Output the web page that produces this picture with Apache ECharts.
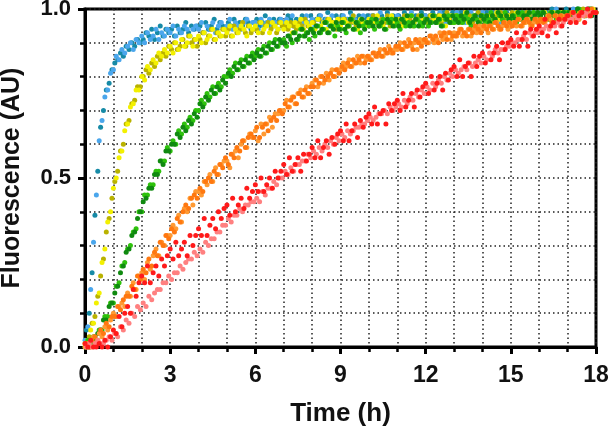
<!DOCTYPE html>
<html>
<head>
<meta charset="utf-8">
<script src="https://cdn.jsdelivr.net/npm/echarts@6/dist/echarts.min.js"></script>
<style>html,body{margin:0;padding:0;background:#fff}#c{width:611px;height:429px}</style>
</head>
<body>
<div id="c"></div>
<script>
// Sampling times (h): replicate A and replicate B
const tA = [0,0.1,0.2,0.3,0.4,0.5,0.6,0.7,0.8,0.9,
1,1.1,1.2,1.3,1.4,1.5,1.6,1.7,1.8,1.9,
2,2.1,2.2,2.3,2.4,2.5,2.6,2.7,2.8,2.9,
3,3.1,3.2,3.3,3.4,3.5,3.6,3.7,3.8,3.9,
4,4.1,4.2,4.3,4.4,4.5,4.6,4.7,4.8,4.9,
5,5.1,5.2,5.3,5.4,5.5,5.6,5.7,5.8,5.9,
6,6.1,6.2,6.3,6.4,6.5,6.6,6.7,6.8,6.9,
7,7.1,7.2,7.3,7.4,7.5,7.6,7.7,7.8,7.9,
8,8.1,8.2,8.3,8.4,8.5,8.6,8.7,8.8,8.9,
9,9.1,9.2,9.3,9.4,9.5,9.6,9.7,9.8,9.9,
10,10.1,10.2,10.3,10.4,10.5,10.6,10.7,10.8,10.9,
11,11.1,11.2,11.3,11.4,11.5,11.6,11.7,11.8,11.9,
12,12.1,12.2,12.3,12.4,12.5,12.6,12.7,12.8,12.9,
13,13.1,13.2,13.3,13.4,13.5,13.6,13.7,13.8,13.9,
14,14.1,14.2,14.3,14.4,14.5,14.6,14.7,14.8,14.9,
15,15.1,15.2,15.3,15.4,15.5,15.6,15.7,15.8,15.9,
16,16.1,16.2,16.3,16.4,16.5,16.6,16.7,16.8,16.9,
17,17.1,17.2,17.3,17.4,17.5,17.6,17.7,17.8,17.9,
18];
const tB = [0.05,0.15,0.25,0.35,0.45,0.55,0.65,0.75,0.85,0.95,
1.05,1.15,1.25,1.35,1.45,1.55,1.65,1.75,1.85,1.95,
2.05,2.15,2.25,2.35,2.45,2.55,2.65,2.75,2.85,2.95,
3.05,3.15,3.25,3.35,3.45,3.55,3.65,3.75,3.85,3.95,
4.05,4.15,4.25,4.35,4.45,4.55,4.65,4.75,4.85,4.95,
5.05,5.15,5.25,5.35,5.45,5.55,5.65,5.75,5.85,5.95,
6.05,6.15,6.25,6.35,6.45,6.55,6.65,6.75,6.85,6.95,
7.05,7.15,7.25,7.35,7.45,7.55,7.65,7.75,7.85,7.95,
8.05,8.15,8.25,8.35,8.45,8.55,8.65,8.75,8.85,8.95,
9.05,9.15,9.25,9.35,9.45,9.55,9.65,9.75,9.85,9.95,
10.05,10.15,10.25,10.35,10.45,10.55,10.65,10.75,10.85,10.95,
11.05,11.15,11.25,11.35,11.45,11.55,11.65,11.75,11.85,11.95,
12.05,12.15,12.25,12.35,12.45,12.55,12.65,12.75,12.85,12.95,
13.05,13.15,13.25,13.35,13.45,13.55,13.65,13.75,13.85,13.95,
14.05,14.15,14.25,14.35,14.45,14.55,14.65,14.75,14.85,14.95,
15.05,15.15,15.25,15.35,15.45,15.55,15.65,15.75,15.85,15.95,
16.05,16.15,16.25,16.35,16.45,16.55,16.65,16.75,16.85,16.95,
17.05,17.15,17.25,17.35,17.45,17.55,17.65,17.75,17.85,17.95];

// Fluorescence (AU)
const blueA = [0.02,0.06,0.17,0.31,0.45,0.61,0.67,0.74,0.76,0.81,
0.82,0.86,0.85,0.88,0.87,0.89,0.90,0.88,0.91,0.90,
0.92,0.90,0.93,0.91,0.92,0.94,0.91,0.93,0.92,0.94,
0.93,0.95,0.92,0.94,0.93,0.95,0.94,0.92,0.94,0.95,
0.94,0.96,0.93,0.95,0.94,0.96,0.93,0.95,0.96,0.94,
0.95,0.97,0.94,0.96,0.95,0.94,0.96,0.97,0.95,0.96,
0.96,0.94,0.97,0.95,0.96,0.97,0.95,0.96,0.94,0.97,
0.96,0.97,0.95,0.98,0.96,0.95,0.97,0.96,0.98,0.96,
0.97,0.95,0.97,0.98,0.96,0.97,0.95,0.98,0.96,0.97,
0.96,0.98,0.97,0.96,0.98,0.97,0.95,0.97,0.98,0.96,
0.97,0.98,0.96,0.97,0.99,0.97,0.96,0.98,0.97,0.96,
0.98,0.96,0.97,0.98,0.97,0.99,0.96,0.97,0.98,0.97,
0.98,0.97,0.96,0.98,0.97,0.99,0.98,0.96,0.98,0.97,
0.97,0.99,0.98,0.97,0.96,0.98,0.99,0.97,0.98,0.98,
0.99,0.97,0.98,0.99,0.97,0.98,0.96,0.99,0.98,0.97,
0.98,0.99,0.97,0.98,0.99,0.98,0.97,0.99,0.98,0.99,
0.99,0.97,0.99,0.98,0.99,0.98,1.00,0.98,0.99,0.97,
0.99,0.98,1.00,0.99,0.98,0.99,0.98,1.00,0.99,0.99,
0.99];
const blueB = [0.05,0.10,0.22,0.39,0.52,0.65,0.70,0.76,0.78,0.82,
0.84,0.85,0.87,0.86,0.89,0.88,0.90,0.89,0.91,0.90,
0.91,0.93,0.92,0.94,0.91,0.93,0.95,0.92,0.94,0.93,
0.94,0.92,0.95,0.93,0.94,0.96,0.93,0.95,0.94,0.95,
0.95,0.93,0.96,0.94,0.95,0.97,0.94,0.96,0.95,0.94,
0.96,0.95,0.97,0.94,0.96,0.95,0.97,0.96,0.94,0.96,
0.97,0.95,0.96,0.98,0.96,0.95,0.97,0.96,0.97,0.95,
0.96,0.98,0.97,0.95,0.97,0.96,0.98,0.97,0.96,0.98,
0.96,0.97,0.98,0.96,0.97,0.99,0.97,0.96,0.98,0.97,
0.98,0.96,0.97,0.99,0.96,0.97,0.98,0.96,0.97,0.98,
0.97,0.98,0.97,0.96,0.98,0.97,0.99,0.97,0.98,0.96,
0.98,0.97,0.99,0.97,0.98,0.96,0.98,0.97,0.99,0.98,
0.97,0.98,0.99,0.97,0.98,0.97,0.99,0.98,0.97,0.99,
0.98,0.97,0.99,0.98,0.97,0.99,0.98,0.98,0.99,0.97,
0.98,0.99,0.97,0.99,0.98,0.98,0.99,0.97,0.99,0.98,
0.99,0.98,0.98,0.99,0.97,0.99,0.98,0.99,0.98,0.99,
0.98,0.99,0.99,0.98,1.00,0.99,0.98,0.99,0.99,1.00,
0.99,0.98,0.99,1.00,0.99,0.99,0.98,0.99,1.00,0.99];
const yellowA = [0.01,0.02,0.05,0.07,0.13,0.16,0.25,0.29,0.37,0.40,
0.47,0.50,0.56,0.58,0.64,0.66,0.71,0.72,0.76,0.76,
0.80,0.79,0.83,0.82,0.85,0.84,0.87,0.86,0.88,0.87,
0.89,0.87,0.90,0.88,0.91,0.89,0.90,0.92,0.89,0.91,
0.92,0.90,0.93,0.91,0.92,0.94,0.91,0.93,0.92,0.94,
0.93,0.95,0.92,0.94,0.93,0.95,0.94,0.92,0.95,0.94,
0.95,0.93,0.96,0.94,0.95,0.93,0.96,0.95,0.94,0.96,
0.94,0.96,0.95,0.93,0.96,0.95,0.97,0.94,0.96,0.95,
0.96,0.94,0.97,0.95,0.96,0.94,0.97,0.96,0.95,0.97,
0.95,0.97,0.96,0.95,0.97,0.96,0.94,0.97,0.96,0.95,
0.97,0.95,0.96,0.98,0.96,0.95,0.97,0.96,0.98,0.96,
0.96,0.97,0.95,0.97,0.96,0.98,0.96,0.97,0.95,0.97,
0.97,0.96,0.98,0.97,0.96,0.98,0.97,0.95,0.97,0.98,
0.96,0.98,0.97,0.97,0.99,0.96,0.97,0.98,0.97,0.96,
0.98,0.97,0.96,0.98,0.97,0.99,0.97,0.98,0.96,0.98,
0.97,0.98,0.99,0.97,0.98,0.96,0.98,0.97,0.99,0.98,
0.98,0.97,0.99,0.98,0.97,0.99,0.98,0.98,0.99,0.97,
0.99,0.98,0.98,0.99,0.97,0.99,0.98,0.99,0.98,1.00,
0.99];
const yellowB = [0.00,0.03,0.07,0.09,0.15,0.21,0.26,0.34,0.38,0.44,
0.49,0.52,0.58,0.60,0.66,0.67,0.72,0.73,0.77,0.77,
0.80,0.82,0.81,0.84,0.83,0.86,0.85,0.87,0.86,0.89,
0.88,0.90,0.88,0.89,0.91,0.89,0.92,0.90,0.91,0.89,
0.91,0.93,0.90,0.92,0.94,0.91,0.93,0.92,0.94,0.92,
0.94,0.92,0.95,0.93,0.94,0.96,0.93,0.95,0.93,0.94,
0.94,0.96,0.93,0.95,0.96,0.94,0.95,0.93,0.96,0.95,
0.95,0.94,0.96,0.95,0.94,0.96,0.95,0.97,0.95,0.94,
0.96,0.95,0.97,0.94,0.96,0.97,0.95,0.96,0.94,0.97,
0.96,0.97,0.95,0.96,0.98,0.95,0.96,0.97,0.95,0.96,
0.96,0.98,0.96,0.95,0.97,0.96,0.98,0.95,0.97,0.96,
0.97,0.96,0.98,0.96,0.97,0.95,0.97,0.98,0.96,0.97,
0.96,0.98,0.97,0.97,0.98,0.96,0.97,0.99,0.97,0.96,
0.98,0.97,0.96,0.98,0.97,0.98,0.96,0.97,0.99,0.97,
0.97,0.98,0.98,0.96,0.98,0.97,0.99,0.97,0.98,0.98,
0.99,0.97,0.98,0.98,0.97,0.99,0.98,0.97,0.98,0.99,
0.98,0.99,0.97,0.98,0.99,0.98,0.99,0.97,0.99,0.98,
0.99,0.98,0.99,0.99,0.98,1.00,0.99,0.98,0.99,0.99];
const greenA = [0.00,0.02,0.01,0.03,0.02,0.05,0.05,0.09,0.09,0.13,
0.13,0.18,0.19,0.24,0.25,0.29,0.30,0.34,0.35,0.40,
0.40,0.45,0.45,0.48,0.48,0.52,0.52,0.55,0.55,0.59,
0.58,0.61,0.60,0.64,0.63,0.66,0.65,0.68,0.67,0.70,
0.70,0.73,0.72,0.75,0.74,0.77,0.75,0.78,0.77,0.80,
0.80,0.82,0.81,0.84,0.82,0.85,0.83,0.86,0.84,0.87,
0.86,0.88,0.86,0.89,0.87,0.90,0.88,0.91,0.89,0.90,
0.91,0.89,0.92,0.90,0.93,0.91,0.94,0.92,0.93,0.91,
0.94,0.92,0.95,0.93,0.94,0.96,0.93,0.95,0.92,0.95,
0.94,0.96,0.93,0.95,0.97,0.94,0.96,0.93,0.95,0.96,
0.95,0.97,0.94,0.96,0.95,0.97,0.94,0.96,0.97,0.95,
0.96,0.94,0.97,0.95,0.96,0.98,0.95,0.97,0.96,0.95,
0.97,0.95,0.96,0.98,0.96,0.97,0.95,0.97,0.98,0.96,
0.96,0.98,0.97,0.96,0.98,0.97,0.95,0.98,0.97,0.96,
0.98,0.96,0.97,0.99,0.97,0.96,0.98,0.97,0.99,0.97,
0.97,0.98,0.96,0.98,0.99,0.97,0.98,0.97,0.99,0.98,
0.98,0.99,0.97,0.98,0.99,0.98,0.97,0.99,0.98,0.99,
0.99,0.98,0.99,0.98,1.00,0.99,0.98,0.99,1.00,0.99,
0.99];
const greenB = [0.01,0.00,0.02,0.03,0.04,0.05,0.08,0.08,0.12,0.13,
0.16,0.18,0.22,0.24,0.28,0.29,0.33,0.34,0.38,0.40,
0.43,0.44,0.47,0.47,0.51,0.51,0.55,0.54,0.58,0.58,
0.60,0.60,0.63,0.62,0.65,0.64,0.67,0.66,0.69,0.68,
0.72,0.71,0.74,0.73,0.76,0.75,0.77,0.76,0.79,0.78,
0.81,0.80,0.83,0.82,0.84,0.83,0.85,0.84,0.86,0.85,
0.87,0.86,0.88,0.87,0.89,0.88,0.90,0.89,0.91,0.90,
0.90,0.92,0.91,0.93,0.91,0.92,0.94,0.92,0.93,0.94,
0.93,0.95,0.93,0.94,0.96,0.93,0.95,0.94,0.96,0.94,
0.96,0.94,0.95,0.97,0.94,0.96,0.95,0.97,0.94,0.96,
0.96,0.95,0.97,0.95,0.96,0.94,0.97,0.96,0.95,0.97,
0.95,0.97,0.96,0.98,0.95,0.96,0.97,0.95,0.98,0.96,
0.97,0.96,0.98,0.96,0.97,0.95,0.98,0.97,0.96,0.98,
0.97,0.96,0.98,0.97,0.99,0.96,0.97,0.98,0.96,0.98,
0.97,0.98,0.96,0.98,0.97,0.99,0.98,0.96,0.98,0.97,
0.98,0.97,0.99,0.97,0.98,0.98,0.99,0.97,0.98,0.99,
0.98,0.99,0.98,0.97,0.99,0.98,0.99,0.98,0.99,0.98,
0.99,0.98,0.99,1.00,0.98,0.99,0.99,1.00,0.98,0.99];
const orangeA = [0.00,0.01,0.00,0.03,0.01,0.04,0.03,0.06,0.05,0.08,
0.10,0.09,0.12,0.13,0.12,0.16,0.15,0.19,0.17,0.21,
0.22,0.20,0.25,0.23,0.27,0.29,0.27,0.31,0.30,0.33,
0.33,0.36,0.35,0.39,0.37,0.41,0.40,0.44,0.42,0.46,
0.46,0.45,0.49,0.48,0.51,0.49,0.53,0.51,0.54,0.55,
0.55,0.53,0.57,0.58,0.56,0.60,0.61,0.59,0.63,0.62,
0.64,0.61,0.66,0.63,0.66,0.68,0.65,0.69,0.69,0.70,
0.70,0.73,0.71,0.74,0.72,0.75,0.76,0.74,0.77,0.75,
0.78,0.79,0.77,0.80,0.78,0.81,0.79,0.82,0.80,0.82,
0.82,0.84,0.83,0.85,0.83,0.84,0.86,0.84,0.86,0.85,
0.86,0.85,0.87,0.86,0.88,0.86,0.87,0.89,0.87,0.88,
0.88,0.90,0.88,0.89,0.91,0.89,0.90,0.88,0.91,0.90,
0.91,0.90,0.92,0.90,0.91,0.93,0.91,0.92,0.93,0.91,
0.93,0.92,0.94,0.92,0.93,0.94,0.92,0.94,0.93,0.95,
0.94,0.95,0.93,0.95,0.94,0.96,0.94,0.95,0.96,0.94,
0.95,0.96,0.95,0.97,0.95,0.96,0.97,0.95,0.96,0.97,
0.96,0.97,0.96,0.98,0.97,0.96,0.98,0.97,0.98,0.97,
0.98,0.97,0.99,0.98,0.97,0.99,0.98,0.99,0.98,0.99,
0.99];
const orangeB = [0.01,0.00,0.02,0.03,0.02,0.05,0.04,0.07,0.06,0.09,
0.09,0.12,0.11,0.14,0.15,0.15,0.18,0.17,0.21,0.20,
0.23,0.22,0.26,0.24,0.28,0.27,0.31,0.30,0.33,0.32,
0.35,0.34,0.38,0.37,0.40,0.42,0.41,0.44,0.45,0.44,
0.47,0.46,0.49,0.50,0.49,0.52,0.51,0.54,0.53,0.56,
0.54,0.57,0.56,0.59,0.58,0.61,0.59,0.62,0.63,0.62,
0.65,0.62,0.65,0.66,0.64,0.67,0.68,0.67,0.70,0.69,
0.72,0.71,0.73,0.74,0.72,0.75,0.74,0.76,0.75,0.77,
0.77,0.79,0.78,0.80,0.79,0.80,0.81,0.80,0.82,0.81,
0.83,0.82,0.84,0.83,0.85,0.84,0.85,0.86,0.84,0.86,
0.85,0.87,0.86,0.87,0.86,0.88,0.87,0.88,0.87,0.89,
0.89,0.88,0.90,0.89,0.90,0.88,0.91,0.90,0.89,0.91,
0.90,0.92,0.91,0.92,0.90,0.92,0.93,0.91,0.93,0.92,
0.92,0.93,0.94,0.93,0.92,0.94,0.93,0.95,0.94,0.93,
0.95,0.94,0.95,0.94,0.96,0.95,0.94,0.96,0.95,0.96,
0.95,0.96,0.97,0.95,0.96,0.97,0.96,0.95,0.97,0.96,
0.97,0.96,0.97,0.98,0.96,0.98,0.97,0.98,0.97,0.98,
0.98,0.99,0.97,0.98,0.99,0.98,0.99,0.98,1.00,0.99];
const redA = [0.01,0.00,0.02,0.00,0.00,0.01,0.00,0.02,0.00,0.03,
0.05,0.04,0.09,0.06,0.10,0.12,0.10,0.17,0.15,0.19,
0.21,0.19,0.24,0.19,0.22,0.24,0.21,0.26,0.24,0.27,
0.29,0.26,0.31,0.27,0.29,0.31,0.27,0.33,0.30,0.33,
0.35,0.33,0.38,0.33,0.36,0.38,0.35,0.40,0.38,0.41,
0.42,0.39,0.44,0.40,0.42,0.44,0.41,0.47,0.44,0.46,
0.48,0.46,0.50,0.46,0.48,0.50,0.47,0.52,0.50,0.52,
0.54,0.51,0.56,0.52,0.54,0.56,0.52,0.57,0.55,0.57,
0.59,0.56,0.61,0.56,0.59,0.61,0.57,0.62,0.60,0.63,
0.64,0.61,0.66,0.61,0.64,0.66,0.62,0.67,0.65,0.68,
0.69,0.66,0.71,0.66,0.69,0.70,0.66,0.72,0.70,0.72,
0.73,0.70,0.75,0.71,0.73,0.75,0.71,0.76,0.74,0.77,
0.78,0.75,0.80,0.76,0.78,0.80,0.76,0.81,0.79,0.82,
0.83,0.80,0.85,0.80,0.83,0.84,0.80,0.86,0.83,0.86,
0.87,0.84,0.89,0.85,0.87,0.89,0.85,0.90,0.88,0.90,
0.91,0.89,0.93,0.89,0.91,0.93,0.89,0.94,0.92,0.94,
0.95,0.93,0.97,0.92,0.95,0.96,0.93,0.97,0.95,0.97,
0.98,0.96,0.99,0.96,0.98,0.99,0.96,1.00,0.98,0.99,
0.99];
const pinkB = [0.00,0.01,0.00,0.01,0.02,0.01,0.01,0.02,0.03,0.02,
0.04,0.03,0.06,0.05,0.08,0.07,0.10,0.09,0.12,0.11,
0.13,0.12,0.15,0.14,0.16,0.17,0.17,0.19,0.19,0.21,
0.20,0.22,0.22,0.24,0.23,0.25,0.26,0.26,0.28,0.27,
0.29,0.28,0.31,0.30,0.32,0.32,0.34,0.34,0.36,0.36,
0.38,0.37,0.39,0.39,0.41,0.40,0.42,0.42,0.43,0.43,
0.44,0.43,0.46,0.45,0.47,0.47,0.49,0.48,0.50,0.50,
0.52,0.51,0.53,0.52,0.54,0.54,0.55,0.55,0.57,0.56,
0.58,0.57,0.59,0.58,0.60,0.59,0.61,0.60,0.62,0.61,
0.63,0.62,0.64,0.63,0.64,0.65,0.65,0.66,0.66,0.67,
0.68,0.67,0.68,0.69,0.69,0.70,0.69,0.71,0.70,0.71,
0.72,0.71,0.73,0.72,0.74,0.73,0.75,0.74,0.76,0.75,
0.77,0.76,0.78,0.77,0.79,0.78,0.80,0.79,0.81,0.80,
0.82,0.81,0.82,0.83,0.82,0.84,0.83,0.84,0.85,0.84,
0.86,0.85,0.87,0.86,0.88,0.87,0.88,0.88,0.89,0.89,
0.90,0.90,0.91,0.91,0.92,0.91,0.93,0.92,0.93,0.93,
0.94,0.94,0.95,0.94,0.95,0.95,0.96,0.95,0.96,0.97,
0.97,0.97,0.98,0.97,0.98,0.98,0.99,0.98,0.99,0.99];

const xTicks = [0,3,6,9,12,15,18];
const yTicks = [0,0.5,1];

const FONT = '"Liberation Sans", Arial, Helvetica, sans-serif';
const dotted = { color: '#222', width: 1.5, type: [1.5, 3] };

function pts(ts, vs) { return ts.map((t, i) => [t, vs[i]]); }
function sc(name, ts, vs, color) {
  return { name, type: 'scatter', data: pts(ts, vs), symbol: 'circle', symbolSize: 5,
    itemStyle: { color, opacity: 1 }, clip: false, silent: true };
}

const chart = echarts.init(document.getElementById('c'), null, { renderer: 'canvas' });
chart.setOption({
  animation: false,
  backgroundColor: '#fff',
  grid: { left: 85, right: 15, top: 9, bottom: 82, containLabel: false, outerBoundsMode: 'none',
    show: true, borderColor: '#000', borderWidth: 3, backgroundColor: 'transparent' },
  xAxis: {
    type: 'value', min: xTicks[0], max: xTicks[xTicks.length - 1], interval: 3,
    name: 'Time (h)', nameLocation: 'middle', nameGap: 54,
    nameTextStyle: { fontFamily: FONT, fontWeight: 'bold', fontSize: 26, color: '#111' },
    axisLine: { show: true, onZero: false, lineStyle: { color: '#000', width: 3 } },
    axisTick: { show: true, length: 7, lineStyle: { color: '#000', width: 3 } },
    minorTick: { show: true, splitNumber: 3, length: 5, lineStyle: { color: '#000', width: 2.5 } },
    splitLine: { show: true, lineStyle: dotted },
    minorSplitLine: { show: true, lineStyle: dotted },
    axisLabel: { fontFamily: FONT, fontWeight: 'bold', fontSize: 23, color: '#111', margin: 17 }
  },
  yAxis: {
    type: 'value', min: yTicks[0], max: yTicks[yTicks.length - 1], interval: 0.5,
    name: 'Fluorescence (AU)', nameLocation: 'middle', nameGap: 60,
    nameTextStyle: { fontFamily: FONT, fontWeight: 'bold', fontSize: 25, color: '#111' },
    axisLine: { show: true, onZero: false, lineStyle: { color: '#000', width: 3 } },
    axisTick: { show: true, length: 7, lineStyle: { color: '#000', width: 3 } },
    minorTick: { show: true, splitNumber: 5, length: 5, lineStyle: { color: '#000', width: 2.5 } },
    splitLine: { show: true, lineStyle: dotted },
    minorSplitLine: { show: true, lineStyle: dotted },
    axisLabel: { fontFamily: FONT, fontWeight: 'bold', fontSize: 22, color: '#111', margin: 14,
      formatter: v => v.toFixed(1) }
  },
  series: [
    sc('blueB', tB, blueB, '#168aa6'),
    sc('blueA', tA, blueA, '#4aa6ec'),
    sc('yellowB', tB, yellowB, '#b9b200'),
    sc('yellowA', tA, yellowA, '#f3f000'),
    sc('greenA', tA, greenA, '#2ec20c'),
    sc('greenB', tB, greenB, '#108a10'),
    sc('orangeA', tA, orangeA, '#ff9a33'),
    sc('orangeB', tB, orangeB, '#ff7810'),
    sc('pinkB', tB, pinkB, '#ff8080'),
    sc('redA', tA, redA, '#ff1a1a')
  ]
});
</script>
</body>
</html>
